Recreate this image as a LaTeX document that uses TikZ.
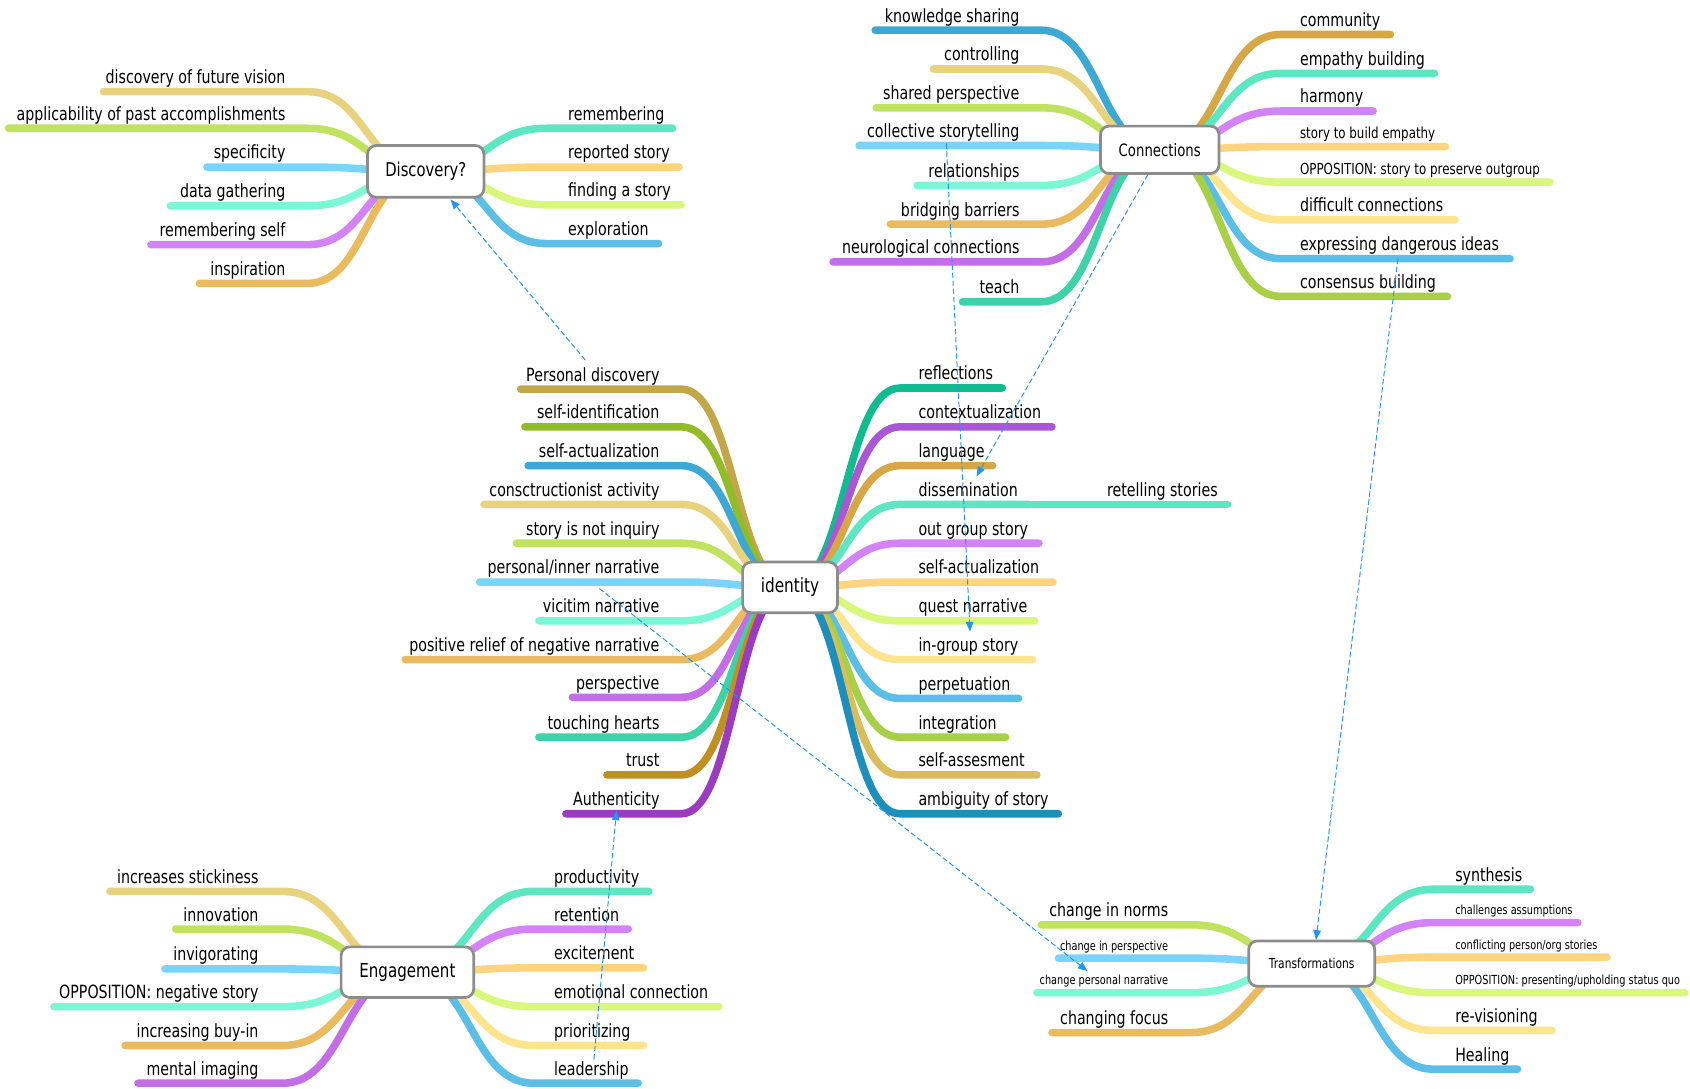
\documentclass[tikz,border=0pt]{standalone}
\usepackage{fontspec}
\setmainfont{DejaVu Sans}[FakeStretch=0.78]
\usetikzlibrary{calc,arrows.meta}
\pgfdeclarelayer{back}
\pgfdeclarelayer{bg}
\pgfsetlayers{back,bg,main}
\definecolor{cKhaki}{HTML}{E9D27D}
\definecolor{cLgreen}{HTML}{BFE35E}
\definecolor{cLblue}{HTML}{78D4FA}
\definecolor{cAqua}{HTML}{7BF7D6}
\definecolor{cViolet}{HTML}{D482F7}
\definecolor{cVioletB}{HTML}{C36EE6}
\definecolor{cOrange}{HTML}{EABB5E}
\definecolor{cMint}{HTML}{5DE6C2}
\definecolor{cLorange}{HTML}{FFD47C}
\definecolor{cYgreen}{HTML}{D8F77C}
\definecolor{cSky}{HTML}{5BBEE6}
\definecolor{cLyellow}{HTML}{FFE48E}
\definecolor{cBlue}{HTML}{3DA8D5}
\definecolor{cTeal}{HTML}{3ED2A9}
\definecolor{cGold}{HTML}{D6A744}
\definecolor{cGreen}{HTML}{A7D046}
\definecolor{cOlivegold}{HTML}{C3A648}
\definecolor{cOlivegreen}{HTML}{92BC27}
\definecolor{cTealgreen}{HTML}{10BC8F}
\definecolor{cPurple}{HTML}{A957D6}
\definecolor{cDarkgold}{HTML}{C08F22}
\definecolor{cDpurple}{HTML}{9A3BC0}
\definecolor{cKhakiB}{HTML}{D9BD5D}
\definecolor{cDblue}{HTML}{1C8FBD}
\definecolor{cHub}{HTML}{8C8C8C}
\definecolor{cLink}{HTML}{2196F3}
\tikzset{
  branch/.style={line width=7pt,line cap=round,line join=round},
  lbl/.style={inner sep=0pt,font=\fontsize{16.9}{19}\selectfont},
  lsm/.style={inner sep=0pt,font=\fontsize{14.1}{16}\selectfont},
  lxs/.style={inner sep=0pt,font=\fontsize{11.6}{13}\selectfont},
  hub/.style={draw=cHub,line width=2.5pt,fill=white,rounded corners=8pt,inner sep=0pt,align=center},
  link/.style={draw=cLink,line width=0.9pt,dash pattern=on 5pt off 2.5pt,-{Triangle[length=9pt,width=7pt]}},
}
% #1 hub #2 name #3 colour #4 line y #5 junction x #6 end x #7 label x #8 text #9 style
\newcommand{\lbr}[9]{%
  \coordinate (#2-j) at (#5,#4);
  \coordinate (#2-e) at (#6,#4);
  \coordinate (#2-m) at ($(#1.center)!0.5!(#2-j)$);
  \node[#9,anchor=base east] (#2) at (#7,#4-7.5) {#8};
  \begin{pgfonlayer}{bg}
    \draw[branch,draw=#3] (#1.center) .. controls (#2-m |- #1.center) and (#2-m |- #2-j) .. (#2-j) -- (#2-e);
  \end{pgfonlayer}}
\newcommand{\rbr}[9]{%
  \coordinate (#2-j) at (#5,#4);
  \coordinate (#2-e) at (#6,#4);
  \coordinate (#2-m) at ($(#1.center)!0.5!(#2-j)$);
  \node[#9,anchor=base west] (#2) at (#7,#4-7.5) {#8};
  \begin{pgfonlayer}{bg}
    \draw[branch,draw=#3] (#1.center) .. controls (#2-m |- #1.center) and (#2-m |- #2-j) .. (#2-j) -- (#2-e);
  \end{pgfonlayer}}
\begin{document}
\begin{tikzpicture}[x=1pt,y=-1pt]
\begin{pgfonlayer}{back}
  \fill[white] (0,0) rectangle (1568,1010);
\end{pgfonlayer}
\path[use as bounding box] (0,0) rectangle (1568,1010);

% hubs
\node[hub,minimum width=108pt,minimum height=48pt,font=\fontsize{17.6}{20}\selectfont] (disc) at (395,159) {Discovery?};
\node[hub,minimum width=110pt,minimum height=44pt,font=\fontsize{15.8}{18}\selectfont] (conn) at (1076,139) {Connections};
\node[hub,minimum width=88pt,minimum height=47pt,font=\fontsize{18.2}{21}\selectfont] (id) at (733,545) {identity};
\node[hub,minimum width=123pt,minimum height=47pt,font=\fontsize{17.9}{21}\selectfont] (eng) at (378,902) {Engagement};
\node[hub,minimum width=117pt,minimum height=42pt,font=\fontsize{12.7}{15}\selectfont] (tr) at (1217,894) {Transformations};

% Discovery
\lbr{disc}{dfv}{cKhaki}{85}{285}{96}{265}{discovery of future vision}{lbl}
\lbr{disc}{app}{cLgreen}{119}{285}{8}{265}{applicability of past accomplishments}{lbl}
\lbr{disc}{spec}{cLblue}{155}{285}{192}{265}{specificity}{lbl}
\lbr{disc}{datg}{cAqua}{191}{285}{158}{265}{data gathering}{lbl}
\lbr{disc}{rself}{cViolet}{227}{285}{140}{265}{remembering self}{lbl}
\lbr{disc}{insp}{cOrange}{263}{285}{185}{265}{inspiration}{lbl}
\rbr{disc}{rem}{cMint}{119}{507}{624}{527}{remembering}{lbl}
\rbr{disc}{rep}{cLorange}{155}{507}{630}{527}{reported story}{lbl}
\rbr{disc}{fas}{cYgreen}{190}{507}{632}{527}{finding a story}{lbl}
\rbr{disc}{expl}{cSky}{226}{507}{611}{527}{exploration}{lbl}

% Connections
\lbr{conn}{ks}{cBlue}{28}{966}{812}{946}{knowledge sharing}{lbl}
\lbr{conn}{ctrl}{cKhaki}{64}{966}{866}{946}{controlling}{lbl}
\lbr{conn}{shp}{cLgreen}{100}{966}{813}{946}{shared perspective}{lbl}
\lbr{conn}{cst}{cLblue}{135}{966}{797}{946}{collective storytelling}{lbl}
\lbr{conn}{rel}{cAqua}{172}{966}{851}{946}{relationships}{lbl}
\lbr{conn}{bb}{cOrange}{208}{966}{826}{946}{bridging barriers}{lbl}
\lbr{conn}{nc}{cVioletB}{243}{966}{773}{946}{neurological connections}{lbl}
\lbr{conn}{teach}{cTeal}{280}{966}{893}{946}{teach}{lbl}
\rbr{conn}{comm}{cGold}{32}{1188}{1290}{1206}{community}{lbl}
\rbr{conn}{emp}{cMint}{68}{1188}{1331}{1206}{empathy building}{lbl}
\rbr{conn}{harm}{cViolet}{103}{1188}{1274}{1206}{harmony}{lbl}
\rbr{conn}{stbe}{cLorange}{136}{1188}{1341}{1206}{story to build empathy}{lsm}
\rbr{conn}{oppa}{cYgreen}{169}{1188}{1438}{1206}{OPPOSITION: story to preserve outgroup}{lsm}
\rbr{conn}{diff}{cLyellow}{204}{1188}{1350}{1206}{difficult connections}{lbl}
\rbr{conn}{edi}{cSky}{240}{1188}{1401}{1206}{expressing dangerous ideas}{lbl}
\rbr{conn}{cons}{cGreen}{275}{1188}{1343}{1206}{consensus building}{lbl}

% identity
\lbr{id}{pd}{cOlivegold}{361}{632}{483}{612}{Personal discovery}{lbl}
\lbr{id}{sid}{cOlivegreen}{396}{632}{487}{612}{self-identification}{lbl}
\lbr{id}{sal}{cBlue}{432}{632}{490}{612}{self-actualization}{lbl}
\lbr{id}{cact}{cKhaki}{468}{632}{449}{612}{consctructionist activity}{lbl}
\lbr{id}{sni}{cLgreen}{504}{632}{479}{612}{story is not inquiry}{lbl}
\lbr{id}{pin}{cLblue}{540}{632}{445}{612}{personal/inner narrative}{lbl}
\lbr{id}{vn}{cAqua}{576}{632}{500}{612}{vicitim narrative}{lbl}
\lbr{id}{prn}{cOrange}{612}{632}{376}{612}{positive relief of negative narrative}{lbl}
\lbr{id}{persp}{cVioletB}{647}{632}{531}{612}{perspective}{lbl}
\lbr{id}{th}{cTeal}{684}{632}{500}{612}{touching hearts}{lbl}
\lbr{id}{trust}{cDarkgold}{719}{632}{563}{612}{trust}{lbl}
\lbr{id}{auth}{cDpurple}{755}{632}{525}{612}{Authenticity}{lbl}
\rbr{id}{refl}{cTealgreen}{360}{835}{930}{852}{reflections}{lbl}
\rbr{id}{ctx}{cPurple}{396}{835}{976}{852}{contextualization}{lbl}
\rbr{id}{lang}{cGold}{432}{835}{921}{852}{language}{lbl}
\rbr{id}{diss}{cMint}{468}{835}{955}{852}{dissemination}{lbl}
\rbr{id}{ogs}{cViolet}{504}{835}{964}{852}{out group story}{lbl}
\rbr{id}{sar}{cLorange}{540}{835}{977}{852}{self-actualization}{lbl}
\rbr{id}{qn}{cYgreen}{576}{835}{960}{852}{quest narrative}{lbl}
\rbr{id}{igs}{cLyellow}{612}{835}{958}{852}{in-group story}{lbl}
\rbr{id}{perp}{cSky}{648}{835}{945}{852}{perpetuation}{lbl}
\rbr{id}{integ}{cGreen}{684}{835}{933}{852}{integration}{lbl}
\rbr{id}{sas}{cKhakiB}{719}{835}{962}{852}{self-assesment}{lbl}
\rbr{id}{amb}{cDblue}{755}{835}{982}{852}{ambiguity of story}{lbl}
\coordinate (rts-e) at (1139,468);
\node[lbl,anchor=base west] (rts) at (1027,460.5) {retelling stories};
\begin{pgfonlayer}{bg}
  \draw[branch,draw=cMint] (diss-e) -- (rts-e);
\end{pgfonlayer}

% Engagement
\lbr{eng}{ist}{cKhaki}{827}{262}{102}{240}{increases stickiness}{lbl}
\lbr{eng}{inn}{cLgreen}{862}{262}{163}{240}{innovation}{lbl}
\lbr{eng}{inv}{cLblue}{899}{262}{153}{240}{invigorating}{lbl}
\lbr{eng}{oppn}{cAqua}{934}{262}{50}{240}{OPPOSITION: negative story}{lbl}
\lbr{eng}{ibi}{cOrange}{970}{262}{116}{240}{increasing buy-in}{lbl}
\lbr{eng}{mi}{cVioletB}{1005}{262}{128}{240}{mental imaging}{lbl}
\rbr{eng}{prod}{cMint}{827}{495}{602}{514}{productivity}{lbl}
\rbr{eng}{ret}{cViolet}{862}{495}{583}{514}{retention}{lbl}
\rbr{eng}{exc}{cLorange}{898}{495}{597}{514}{excitement}{lbl}
\rbr{eng}{emo}{cYgreen}{934}{495}{667}{514}{emotional connection}{lbl}
\rbr{eng}{prio}{cLyellow}{970}{495}{597}{514}{prioritizing}{lbl}
\rbr{eng}{lead}{cSky}{1005}{495}{592}{514}{leadership}{lbl}

% Transformations
\lbr{tr}{cin}{cLgreen}{858}{1105}{966}{1084}{change in norms}{lbl}
\lbr{tr}{cip}{cLblue}{889}{1105}{982}{1084}{change in perspective}{lxs}
\lbr{tr}{cpn}{cAqua}{921}{1105}{962}{1084}{change personal narrative}{lxs}
\lbr{tr}{cf}{cOrange}{958}{1105}{976}{1084}{changing focus}{lbl}
\rbr{tr}{syn}{cMint}{825}{1330}{1420}{1350}{synthesis}{lbl}
\rbr{tr}{cha}{cViolet}{856}{1330}{1464}{1350}{challenges assumptions}{lxs}
\rbr{tr}{cpo}{cLorange}{888}{1330}{1491}{1350}{conflicting person/org stories}{lxs}
\rbr{tr}{oppb}{cYgreen}{921}{1330}{1563}{1350}{OPPOSITION: presenting/upholding status quo}{lxs}
\rbr{tr}{rev}{cLyellow}{956}{1330}{1440}{1350}{re-visioning}{lbl}
\rbr{tr}{heal}{cSky}{992}{1330}{1408}{1350}{Healing}{lbl}

% dashed relation arrows
\coordinate (a1s) at (543,334);  \coordinate (a1e) at (418,185);
\coordinate (a2s) at (1065,162); \coordinate (a2e) at (906,442);
\coordinate (a3s) at (878,133);  \coordinate (a3e) at (900,586);
\coordinate (a4s) at (1297,240); \coordinate (a4e) at (1221,872);
\coordinate (a5s) at (556,546);  \coordinate (a5e) at (1009,901);
\coordinate (a6s) at (551,983);  \coordinate (a6e) at (572,752);
\draw[link] (a1s) -- (a1e);
\draw[link] (a2s) -- (a2e);
\draw[link] (a3s) -- (a3e);
\draw[link] (a4s) -- (a4e);
\draw[link] (a5s) -- (a5e);
\draw[link] (a6s) -- (a6e);
\end{tikzpicture}
\end{document}
